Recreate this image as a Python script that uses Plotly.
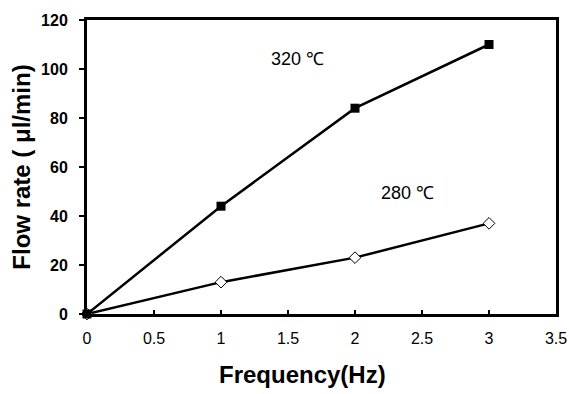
import plotly.graph_objects as go

freq = [0, 1, 2, 3]
flow_320 = [0, 44, 84, 110]
flow_280 = [0, 13, 23, 37]
x_ticks = [0, 0.5, 1, 1.5, 2, 2.5, 3, 3.5]
x_tick_text = ["0", "0.5", "1", "1.5", "2", "2.5", "3", "3.5"]
y_ticks = [0, 20, 40, 60, 80, 100, 120]

fig = go.Figure()
fig.add_trace(go.Scatter(x=freq, y=flow_280, mode="lines+markers",
                         line=dict(color="black", width=2.5),
                         marker=dict(symbol="diamond", size=9, color="white",
                                     line=dict(color="black", width=1)),
                         cliponaxis=False, showlegend=False))
fig.add_trace(go.Scatter(x=freq, y=flow_320, mode="lines+markers",
                         line=dict(color="black", width=2.5),
                         marker=dict(symbol="square", size=9, color="black"),
                         cliponaxis=False, showlegend=False))

fig.add_annotation(x=1.57, y=104, text="320 ℃", showarrow=False,
                   font=dict(family="Liberation Sans", size=18, color="black"))
fig.add_annotation(x=2.39, y=49.5, text="280 ℃", showarrow=False,
                   font=dict(family="Liberation Sans", size=18, color="black"))
fig.add_annotation(xref="paper", yref="paper", x=0.46, y=-0.207,
                   xanchor="center", yanchor="middle",
                   text="<b>Frequency(Hz)</b>", showarrow=False,
                   font=dict(family="Liberation Sans", size=24, color="black"))

fig.update_xaxes(range=[0, 3.5], tickvals=x_ticks, ticktext=x_tick_text,
                 ticks="inside", ticklen=4, tickwidth=2, tickcolor="black",
                 ticklabelstandoff=8, automargin=False,
                 showline=True, linecolor="black", linewidth=3, mirror=True,
                 showgrid=False, zeroline=False,
                 tickfont=dict(family="Liberation Sans", size=16, color="black"))
fig.update_yaxes(range=[0, 120], tickvals=y_ticks,
                 ticktext=[f"<b>{v}</b>" for v in y_ticks],
                 ticks="outside", ticklen=5, tickwidth=2, tickcolor="black",
                 ticklabelstandoff=8, automargin=False,
                 showline=True, linecolor="black", linewidth=3, mirror=True,
                 showgrid=False, zeroline=False,
                 tickfont=dict(family="Liberation Sans", size=16, color="black"),
                 title=dict(text="<b>Flow rate ( μl/min)</b>", standoff=4,
                            font=dict(family="Liberation Sans", size=24, color="black")))

fig.update_layout(width=569, height=394, margin=dict(l=87, r=13, t=20, b=80),
                  plot_bgcolor="white", paper_bgcolor="white")
fig.write_html("out.html", config={"displayModeBar": False},
               post_script="document.body.style.margin='0';document.body.style.overflow='hidden';")
